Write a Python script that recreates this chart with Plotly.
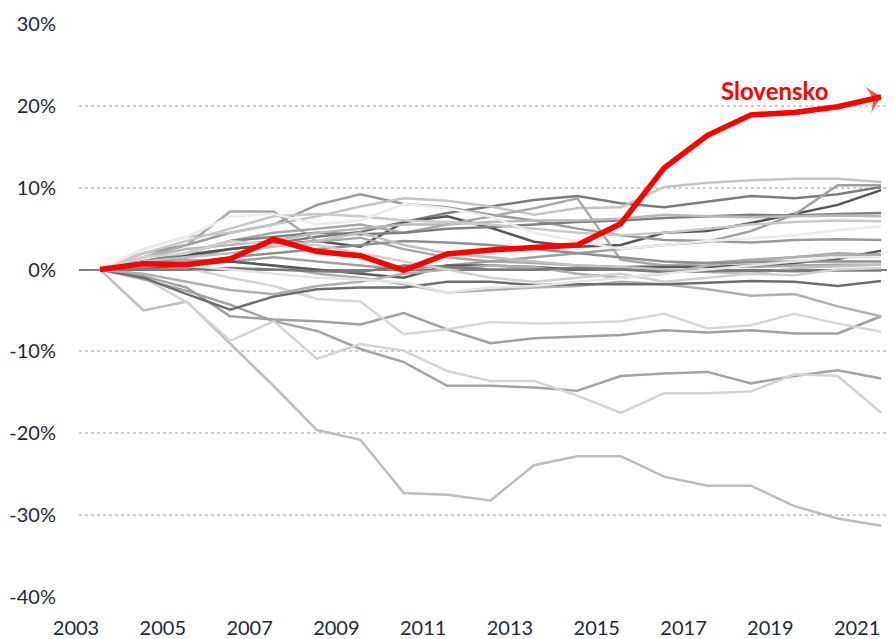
import plotly.graph_objects as go

years = list(range(2003, 2022))
tick_years = [2003, 2005, 2007, 2009, 2011, 2013, 2015, 2017, 2019, 2021]
y_ticks = [-40, -30, -20, -10, 0, 10, 20, 30]
y_tick_labels = ["-40%", "-30%", "-20%", "-10%", "0%", "10%", "20%", "30%"]

slovensko = [0, 0.7, 0.6, 1.3, 3.7, 2.2, 1.7, -0.1, 1.9, 2.4, 2.7, 3.0, 5.6, 12.4, 16.4, 18.9, 19.2, 19.9, 21.1]

# other countries (grey lines) and their grey shades
others = [
    ("#bdbdbd", [0, -5.0, -3.9, -9.0, -14.2, -19.6, -20.8, -27.3, -27.5, -28.2, -23.9, -22.8, -22.8, -25.3, -26.4, -26.4, -28.9, -30.4, -31.3]),
    ("#a3a3a3", [0, -1.2, -2.6, -4.3, -6.3, -7.5, -9.7, -11.3, -14.2, -14.2, -14.4, -14.8, -13.0, -12.7, -12.5, -13.9, -13.0, -12.3, -13.3]),
    ("#a0a0a0", [0, -0.8, -2.2, -5.7, -6.1, -6.3, -6.7, -5.3, -7.3, -9.0, -8.4, -8.2, -8.0, -7.4, -7.7, -7.4, -7.8, -7.8, -5.7]),
    ("#d3d3d3", [0, -1.0, -4.0, -8.7, -6.3, -10.9, -9.1, -9.9, -12.4, -13.6, -13.6, -15.4, -17.5, -15.1, -15.1, -14.9, -12.8, -13.0, -17.5]),
    ("#d6d6d6", [0, 0.5, 0.2, -1.0, -2.0, -3.6, -3.9, -7.9, -7.3, -6.4, -6.6, -6.5, -6.3, -5.4, -7.2, -6.8, -5.4, -6.6, -7.6]),
    ("#b0b0b0", [0, 0.8, 1.2, 1.0, 0.5, -0.5, -1.0, -1.8, -2.8, -2.5, -2.2, -2.0, -1.5, -1.8, -2.4, -3.2, -3.0, -4.5, -5.7]),
    ("#6e6e6e", [0, -1.0, -3.0, -4.9, -3.3, -2.4, -2.2, -2.2, -1.5, -1.5, -1.9, -1.8, -1.8, -1.8, -1.6, -1.4, -1.5, -2.0, -1.4]),
    ("#7c7c7c", [0, 0.8, 1.5, 2.5, 3.2, 4.0, 4.6, 5.8, 6.9, 7.7, 8.5, 9.0, 8.1, 7.6, 8.3, 9.0, 8.7, 9.2, 10.1]),
    ("#555555", [0, 1.0, 1.8, 2.5, 3.0, 3.5, 2.8, 5.8, 6.5, 5.1, 3.4, 2.8, 3.0, 4.5, 4.7, 5.7, 6.8, 7.9, 9.7]),
    ("#9a9a9a", [0, 2.0, 3.0, 4.5, 5.5, 7.9, 9.2, 8.0, 7.6, 6.7, 6.0, 5.0, 4.2, 3.6, 3.5, 3.3, 3.6, 3.7, 3.6]),
    ("#c4c4c4", [0, 2.5, 4.0, 4.5, 5.5, 6.5, 7.7, 8.7, 8.4, 7.7, 6.7, 7.5, 7.6, 10.1, 10.6, 10.9, 11.1, 11.1, 10.7]),
    ("#a8a8a8", [0, 1.5, 3.0, 7.1, 7.1, 3.4, 3.9, 2.5, 1.5, 1.0, 0.8, 0.5, 0.3, 0.5, 0.4, 0.3, 0.5, 0.6, 0.6]),
    ("#a8a8a8", [0, 1.0, 2.0, 3.5, 4.5, 5.0, 5.5, 4.5, 5.5, 6.5, 7.5, 8.7, 1.2, 0.5, 0.8, 1.2, 1.5, 2.0, 1.8]),
    ("#a0a0a0", [0, 0.5, 1.0, 1.0, 1.5, 1.0, 0.5, 0.0, 0.5, 1.0, 1.5, 2.0, 2.5, 3.0, 3.4, 4.7, 6.7, 10.3, 10.3]),
    ("#808080", [0, 1.0, 2.0, 3.5, 4.0, 4.5, 4.3, 4.5, 5.0, 5.2, 5.5, 5.8, 6.0, 6.3, 6.5, 6.7, 6.6, 6.8, 6.9]),
    ("#b8b8b8", [0, 1.5, 2.5, 3.0, 3.5, 4.5, 5.0, 5.5, 5.5, 5.8, 6.0, 6.0, 6.2, 6.7, 6.5, 6.4, 6.5, 6.6, 6.5]),
    ("#c8c8c8", [0, 2.0, 3.5, 5.0, 6.5, 6.8, 6.5, 6.0, 5.8, 5.5, 5.0, 4.5, 4.2, 4.5, 5.0, 5.5, 5.8, 6.0, 5.9]),
    ("#ececec", [0, 2.5, 4.0, 6.5, 6.8, 5.5, 6.0, 8.0, 7.5, 6.5, 4.5, 3.5, 2.5, 3.0, 3.5, 3.8, 4.2, 4.8, 5.3]),
    ("#5a5a5a", [0, 0.2, 0.5, 1.0, 0.5, 0.0, -0.5, -1.0, 0.5, 0.5, 0.3, 0.0, 0.2, 0.3, 0.3, 0.5, 0.8, 1.3, 2.3]),
    ("#b0b0b0", [0, -0.5, -1.5, -2.5, -3.0, -2.0, -1.5, -0.5, 0.0, 0.5, 0.3, -0.5, -1.0, -0.5, 0.5, 1.0, 1.5, 1.8, 1.8]),
    ("#909090", [0, 0.3, 0.8, 1.5, 2.0, 2.5, 3.0, 3.5, 3.3, 3.0, 2.5, 2.0, 1.5, 1.0, 0.8, 0.9, 1.0, 1.0, 1.0]),
    ("#c0c0c0", [0, 1.0, 1.5, 2.0, 2.8, 3.5, 4.5, 3.0, 2.0, 1.5, 1.0, 0.5, 0.3, 0.0, -0.3, -0.5, 0.2, 0.4, 0.6]),
    ("#7a7a7a", [0, 0.0, 0.0, 0.2, 0.0, -0.2, -0.3, 0.5, 0.3, 0.0, 0.0, 0.2, 0.0, -0.3, -0.2, -0.1, -0.2, -0.1, -0.1]),
    ("#d0d0d0", [0, 1.5, 2.0, 3.5, 3.0, 3.0, 2.0, 1.0, 0.0, -1.0, -1.5, -1.0, -0.5, -1.5, -1.0, -0.5, -0.7, 0.0, 0.2]),
    ("#e4e4e4", [0, 0.5, 0.5, 0.0, -0.5, -1.0, -1.2, -1.6, -2.8, -2.2, -2.0, -1.5, -1.0, -0.5, 0.0, 0.5, 1.0, 1.5, 1.5]),
]

FONT = "Lato, 'Open Sans', sans-serif"
TEXT_COLOR = "#1f2a36"

fig = go.Figure()
for color, vals in others:
    fig.add_trace(go.Scatter(x=years, y=vals, mode="lines",
                             line=dict(color=color, width=2.5),
                             hoverinfo="skip", showlegend=False))

n = len(slovensko)
fig.add_trace(go.Scatter(
    x=years, y=slovensko, mode="lines+markers", name="Slovensko",
    line=dict(color="#ff0000", width=5.5),
    marker=dict(symbol="arrow-wide", size=[0] * (n - 1) + [22], angleref="previous",
                color="#ff0000", line=dict(width=0)),
    cliponaxis=False, showlegend=False,
))

fig.add_annotation(x=2018.56, y=21.9, text="<b>Slovensko</b>", showarrow=False,
                   font=dict(family=FONT, size=24, color="#ff0000"))

fig.update_layout(
    width=887, height=631,
    margin=dict(l=71, r=0, t=16, b=40),
    paper_bgcolor="white", plot_bgcolor="white",
    font=dict(family=FONT, size=20, color=TEXT_COLOR),
    showlegend=False,
)
fig.update_xaxes(range=[2002.516, 2021.32], tickvals=tick_years,
                 ticktext=[str(t) for t in tick_years],
                 showgrid=False, zeroline=False, showline=False,
                 ticklabelshift=-24, ticklabelstandoff=17,
                 tickfont=dict(size=20, color=TEXT_COLOR))
fig.update_yaxes(range=[-40, 30], tickvals=y_ticks, ticktext=y_tick_labels,
                 showgrid=True, gridcolor="#cfcfcf", griddash="dot", gridwidth=1.5,
                 zeroline=True, zerolinecolor="#7f7f7f", zerolinewidth=1.5,
                 showline=False, ticklabelstandoff=22,
                 tickfont=dict(size=20, color=TEXT_COLOR))

fig.write_html("out.html")
